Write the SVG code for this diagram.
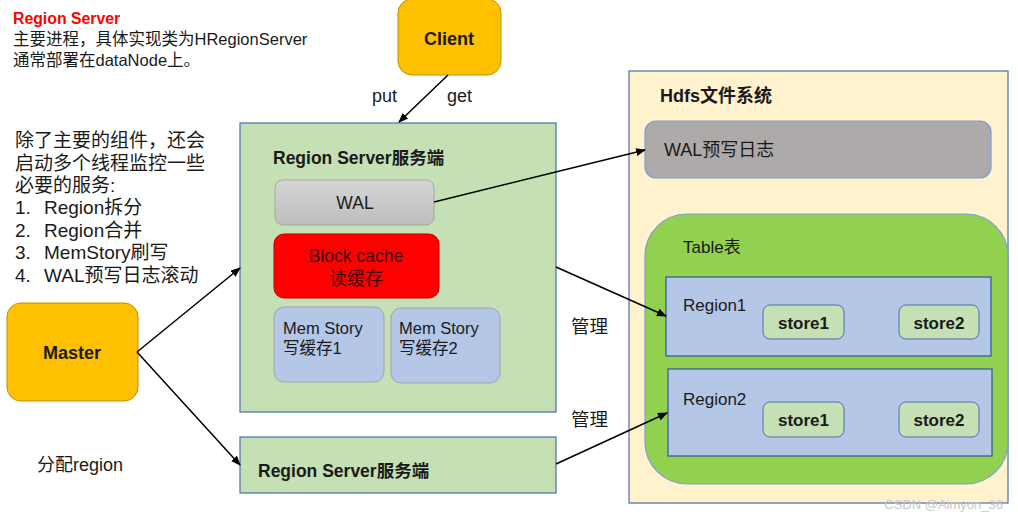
<svg xmlns="http://www.w3.org/2000/svg" width="1018" height="522" viewBox="0 0 1018 522">
<defs>
<marker id="ah" markerWidth="10" markerHeight="8" refX="9" refY="4" orient="auto" markerUnits="userSpaceOnUse">
<path d="M0,0 L10,4 L0,8 z" fill="#000"/>
</marker>
<linearGradient id="walg" x1="0" y1="0" x2="0" y2="1">
<stop offset="0" stop-color="#D6D6D6"/>
<stop offset="1" stop-color="#BDBDBD"/>
</linearGradient>
</defs>
<style>
text{font-family:"Liberation Sans","Noto Sans CJK SC",sans-serif;fill:#1a1a1a}
.b{font-weight:bold}
.yel{fill:#FFC000;stroke:#BF9000;stroke-width:1}
.rs{fill:#C5E0B4;stroke:#4A6FA8;stroke-width:1.2}
.mem{fill:#B4C7E7;stroke:#A0A4AA;stroke-width:1}
.reg{fill:#B4C7E7;stroke:#2F5597;stroke-width:1.2}
.st{fill:#C5E0B4;stroke:#4A6FA8;stroke-width:1}
.conn line{stroke:#000;stroke-width:1.5;marker-end:url(#ah)}
</style>
<rect width="1018" height="522" fill="#fff"/>

<g id="notes">
<text x="13" y="24" class="b" font-size="15.8" style="fill:#FF0000">Region Server</text>
<text x="13" y="45" font-size="16.5">主要进程，具体实现类为HRegionServer</text>
<text x="13" y="66" font-size="16.5">通常部署在dataNode上。</text>
<g font-size="19">
<text x="15" y="147">除了主要的组件，还会</text>
<text x="15" y="170">启动多个线程监控一些</text>
<text x="15" y="192">必要的服务:</text>
<text x="15" y="214">1.</text><text x="44" y="214">Region拆分</text>
<text x="15" y="237">2.</text><text x="44" y="237">Region合并</text>
<text x="15" y="259">3.</text><text x="44" y="259">MemStory刷写</text>
<text x="15" y="282">4.</text><text x="44" y="282">WAL预写日志滚动</text>
</g>
<text x="37" y="471" font-size="18">分配region</text>
<text x="372" y="102" font-size="18">put</text>
<text x="447" y="102" font-size="18">get</text>
<text x="571" y="333" font-size="18.5">管理</text>
<text x="571" y="426" font-size="18.5">管理</text>
</g>

<g id="client">
<rect class="yel" x="398" y="-1" width="103" height="76" rx="14"/>
<text x="449" y="45" class="b" font-size="18" text-anchor="middle">Client</text>
</g>

<g id="master">
<rect class="yel" x="7" y="303" width="131" height="98" rx="14"/>
<text x="72" y="359" class="b" font-size="18" text-anchor="middle">Master</text>
</g>

<g id="regionserver1">
<rect class="rs" x="240" y="123" width="316" height="289"/>
<text x="273" y="164" class="b" font-size="17.5">Region Server服务端</text>
<g id="wal">
<rect x="275" y="180" width="159" height="45" rx="8" fill="url(#walg)" stroke="#A6A6A6"/>
<text x="355" y="209" font-size="17.5" text-anchor="middle">WAL</text>
</g>
<g id="blockcache">
<rect x="274" y="234" width="165" height="64" rx="10" fill="#FF0000" stroke="#C00000"/>
<text x="356" y="262" font-size="17.5" text-anchor="middle" style="fill:#3a0a0a">Block cache</text>
<text x="356" y="285" font-size="18" text-anchor="middle" style="fill:#3a0a0a">读缓存</text>
</g>
<g id="memstore1">
<rect class="mem" x="274" y="307" width="110" height="75" rx="10"/>
<text x="283" y="334" font-size="16.5">Mem Story</text>
<text x="283" y="354" font-size="16.5">写缓存1</text>
</g>
<g id="memstore2">
<rect class="mem" x="391" y="308" width="109" height="75" rx="10"/>
<text x="399" y="334" font-size="16.5">Mem Story</text>
<text x="399" y="354" font-size="16.5">写缓存2</text>
</g>
</g>

<g id="regionserver2">
<rect class="rs" x="240" y="437" width="316" height="56"/>
<text x="258" y="477" class="b" font-size="17.5">Region Server服务端</text>
</g>

<g id="hdfs">
<rect x="629" y="71" width="379" height="432" fill="#FFF2CC" stroke="#4A6FA8" stroke-width="1.2"/>
<text x="660" y="102" class="b" font-size="18">Hdfs文件系统</text>
<g id="walfile">
<rect x="645" y="121" width="346" height="57" rx="11" fill="#AEAAAA" stroke="#7A9FD4" stroke-width="1.2"/>
<text x="664" y="156" font-size="18">WAL预写日志</text>
</g>
<g id="table">
<rect x="645" y="214" width="363" height="270" rx="42" fill="#92D050" stroke="#7A9FD4" stroke-width="1.2"/>
<text x="683" y="253" font-size="17">Table表</text>
<g id="region1">
<rect class="reg" x="666" y="277" width="325" height="79"/>
<text x="683" y="311" font-size="17">Region1</text>
<rect class="st" x="763" y="305" width="81" height="34" rx="7"/>
<text x="803.5" y="329" class="b" font-size="17" text-anchor="middle">store1</text>
<rect class="st" x="899" y="305" width="80" height="34" rx="7"/>
<text x="939" y="329" class="b" font-size="17" text-anchor="middle">store2</text>
</g>
<g id="region2">
<rect class="reg" x="668" y="369" width="324" height="87"/>
<text x="683" y="405" font-size="17">Region2</text>
<rect class="st" x="763" y="402" width="81" height="35" rx="7"/>
<text x="803.5" y="426" class="b" font-size="17" text-anchor="middle">store1</text>
<rect class="st" x="899" y="402" width="80" height="35" rx="7"/>
<text x="939" y="426" class="b" font-size="17" text-anchor="middle">store2</text>
</g>
</g>
</g>

<g id="connectors" class="conn">
<line x1="448" y1="75" x2="399" y2="122"/>
<line x1="137" y1="352" x2="240" y2="268"/>
<line x1="137" y1="352" x2="240" y2="465"/>
<line x1="434" y1="202" x2="645" y2="150"/>
<line x1="556" y1="267" x2="666" y2="316"/>
<line x1="556" y1="464" x2="667" y2="413"/>
</g>

<text x="1003" y="509" font-size="13" text-anchor="end" style="fill:#C8C8C8">CSDN @Aimyon_36</text>
</svg>
